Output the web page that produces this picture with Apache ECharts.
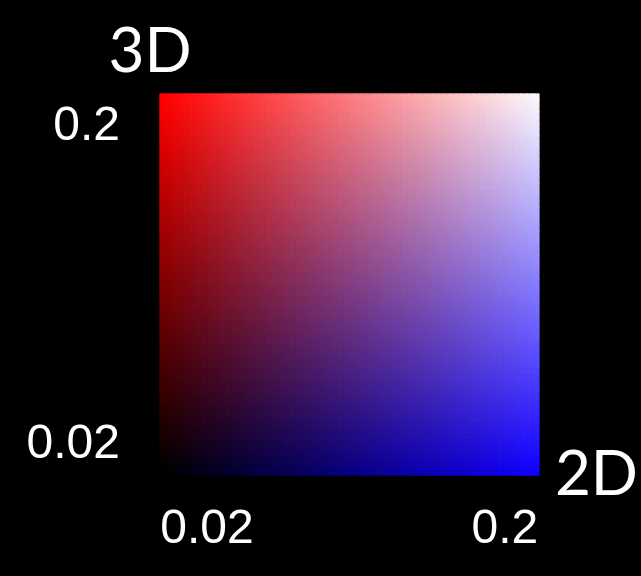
<!DOCTYPE html>
<html><head><meta charset="utf-8">
<script src="https://cdn.jsdelivr.net/npm/echarts@6/dist/echarts.min.js"></script>
<style>html,body{margin:0;padding:0;background:#000}#c{width:641px;height:576px}</style>
</head><body><div id="c"></div>
<script>
// Tick labels and titles
const xTickLabels = ['0.02', '0.2'];
const yTickLabels = ['0.02', '0.2'];
const xAxisTitle = '2D';
const yAxisTitle = '3D';
// Corner colours of the bivariate colour key
const colorBottomLeft = [0, 0, 0];
const colorTopLeft = [255, 0, 0];
const colorBottomRight = [18, 0, 255];
const colorTopRight = [250, 246, 252];
const steps = 64;

const cats = [];
for (let i = 0; i < steps; i++) cats.push(i);
const cells = [];
for (let i = 0; i < steps; i++) {
  for (let j = 0; j < steps; j++) {
    const u = i / (steps - 1), v = j / (steps - 1);
    const c = [0, 1, 2].map(k => Math.round(
      colorBottomLeft[k] * (1 - u) * (1 - v) + colorBottomRight[k] * u * (1 - v) +
      colorTopLeft[k] * (1 - u) * v + colorTopRight[k] * u * v));
    const col = 'rgb(' + c.join(',') + ')';
    cells.push({ value: [i, j, 0], itemStyle: { color: col, borderColor: col, borderWidth: 0.8 } });
  }
}

const labelFont = 'Liberation Sans';
const titleFont = 'Lato';
const lf = 48;
const chart = echarts.init(document.getElementById('c'));
chart.setOption({
  backgroundColor: '#000',
  animation: false,
  grid: { left: 160, top: 94, width: 381, height: 381 },
  xAxis: [
    { type: 'category', data: cats, show: false },
    {
      type: 'value', min: 0, max: 1, interval: 1, position: 'bottom',
      axisLine: { show: false }, axisTick: { show: false }, splitLine: { show: false },
      name: xAxisTitle, nameLocation: 'end', nameGap: 16,
      nameTextStyle: { color: '#fff', fontSize: 62, fontFamily: titleFont, align: 'left', verticalAlign: 'middle', padding: [14, 0, 0, 0] },
      axisLabel: {
        color: '#fff', fontSize: lf, fontFamily: labelFont, margin: 31,
        formatter: (v) => v === 0 ? '{a|' + xTickLabels[0] + '}' : '{b|' + xTickLabels[1] + '}',
        rich: {
          a: { color: '#fff', fontSize: lf, fontFamily: labelFont, padding: [0, 0, 0, 94] },
          b: { color: '#fff', fontSize: lf, fontFamily: labelFont, padding: [0, 68, 0, 0] }
        }
      }
    }
  ],
  yAxis: [
    { type: 'category', data: cats, show: false },
    {
      type: 'value', min: 0, max: 1, interval: 1, position: 'left',
      axisLine: { show: false }, axisTick: { show: false }, splitLine: { show: false },
      name: yAxisTitle, nameLocation: 'end', nameGap: 11,
      nameTextStyle: { color: '#fff', fontSize: 62, fontFamily: titleFont, align: 'center', verticalAlign: 'bottom', padding: [0, 20, 0, 0] },
      axisLabel: {
        color: '#fff', fontSize: lf, fontFamily: labelFont, margin: 40,
        formatter: (v) => v === 0 ? '{a|' + yTickLabels[0] + '}' : '{b|' + yTickLabels[1] + '}',
        rich: {
          a: { color: '#fff', fontSize: lf, fontFamily: labelFont, padding: [0, 0, 60, 0] },
          b: { color: '#fff', fontSize: lf, fontFamily: labelFont, padding: [66, 0, 0, 0] }
        }
      }
    }
  ],
  series: [{
    type: 'heatmap', xAxisIndex: 0, yAxisIndex: 0, data: cells,
    progressive: 0, emphasis: { disabled: true }
  }]
});
</script></body></html>
